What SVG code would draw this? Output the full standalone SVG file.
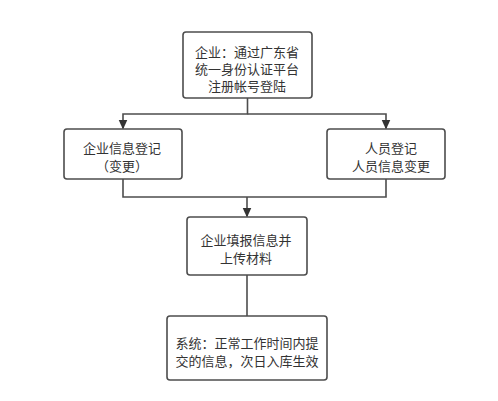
<svg xmlns="http://www.w3.org/2000/svg" width="498" height="401" viewBox="0 0 498 401">
<style>
.box{fill:#fff;stroke:#4d4d4d;stroke-width:1.6}
.t{font-family:"Noto Sans CJK SC","Noto Sans",sans-serif;font-size:13px;fill:#333;text-anchor:middle}
.c{fill:none;stroke:#4d4d4d;stroke-width:1.6}
</style>
<defs>
<marker id="ah" markerWidth="10" markerHeight="10" refX="9" refY="5" orient="auto" markerUnits="userSpaceOnUse">
<path d="M0,0.5 L10,5 L0,9.5 z" fill="#333"/>
</marker>
</defs>
<rect width="498" height="401" fill="#fff"/>
<g id="connectors">
<path class="c" d="M247.5,98 V114 H123 V128.5" marker-end="url(#ah)"/>
<path class="c" d="M247.5,114 H386 V128.5" marker-end="url(#ah)"/>
<path class="c" d="M123,179 V197 H386 V179"/>
<path class="c" d="M247,197 V216.5" marker-end="url(#ah)"/>
<path class="c" d="M247,275 V316"/>
</g>
<g id="n1">
<rect class="box" x="183" y="32" width="129" height="66" rx="3"/>
<text class="t" x="247" y="56.5">企业：通过广东省</text>
<text class="t" x="247" y="73.5">统一身份认证平台</text>
<text class="t" x="247" y="90.5">注册帐号登陆</text>
</g>
<g id="n2">
<rect class="box" x="64" y="129" width="118" height="50" rx="3"/>
<text class="t" x="122" y="153">企业信息登记</text>
<text class="t" x="122" y="170.5">（变更）</text>
</g>
<g id="n3">
<rect class="box" x="327" y="129" width="118" height="50" rx="3"/>
<text class="t" x="391" y="153">人员登记</text>
<text class="t" x="391" y="170.5">人员信息变更</text>
</g>
<g id="n4">
<rect class="box" x="187" y="217" width="120" height="58" rx="3"/>
<text class="t" x="246" y="244.5">企业填报信息并</text>
<text class="t" x="246" y="262.5">上传材料</text>
</g>
<g id="n5">
<rect class="box" x="167" y="316" width="160" height="64" rx="3"/>
<text class="t" x="247" y="348">系统：正常工作时间内提</text>
<text class="t" x="247" y="366">交的信息，次日入库生效</text>
</g>
</svg>
